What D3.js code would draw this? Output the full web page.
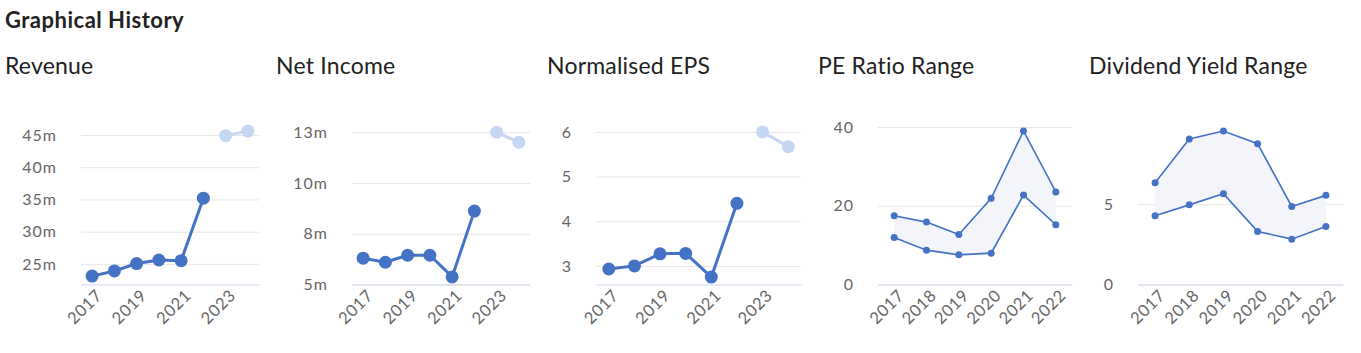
<!DOCTYPE html>
<html>
<head>
<meta charset="utf-8">
<script src="https://cdn.jsdelivr.net/npm/d3@7"></script>
<style>
  body { margin: 0; background: #fff; font-family: Lato, sans-serif; }
</style>
</head>
<body>
<div id="chart"></div>
<script>
// Données
const lineYears = [2017, 2018, 2019, 2020, 2021, 2022, 2023, 2024];
const lineYearLabels = [2017, 2019, 2021, 2023];
const rangeYears = [2017, 2018, 2019, 2020, 2021, 2022];

const revenueActual = [23.1, 23.9, 25.05, 25.6, 25.5, 35.2];
const revenueForecast = [44.9, 45.6];
const revenueTicks = [25, 30, 35, 40, 45];

const netIncomeActual = [6.55, 6.34, 6.7, 6.7, 5.59, 8.96];
const netIncomeForecast = [13.0, 12.49];
const netIncomeTicks = [5.2, 7.8, 10.4, 13.0];

const epsActual = [2.93, 3.0, 3.27, 3.28, 2.75, 4.40];
const epsForecast = [6.0, 5.67];
const epsTicks = [3, 4, 5, 6];

const peHigh = [17.45, 15.85, 12.7, 21.9, 39.0, 23.5];
const peLow = [11.96, 8.73, 7.53, 7.96, 22.7, 15.17];
const peTicks = [0, 20, 40];

const divHigh = [6.32, 9.04, 9.54, 8.75, 4.85, 5.54];
const divLow = [4.27, 4.95, 5.64, 3.30, 2.82, 3.61];
const divTicks = [0, 5];

// Canevas
const width = 1361;
const height = 353;
const plotTop = 127;
const plotBottom = 284.5;
const blue = "#4472c4";
const lightBlue = "#c5d6f3";

const svg = d3.select("#chart")
    .append("svg")
    .attr("width", width)
    .attr("height", height);

svg.append("text")
    .attr("x", 5)
    .attr("y", 28)
    .attr("font-size", "22px")
    .attr("font-weight", "bold")
    .attr("letter-spacing", "0.5px")
    .attr("fill", "#222")
    .text("Graphical History");

const panels = [
    { title: "Revenue", x0: 5, left: 76, type: "line", actual: revenueActual, forecast: revenueForecast, ticks: revenueTicks, domain: [21.8, 46.24], fmt: d => d3.format(".0f")(d) + "m" },
    { title: "Net Income", x0: 276, left: 76, type: "line", actual: netIncomeActual, forecast: netIncomeForecast, ticks: netIncomeTicks, domain: [5.2, 13.27], fmt: d => d3.format(".0f")(d) + "m" },
    { title: "Normalised EPS", x0: 547, left: 49, type: "line", actual: epsActual, forecast: epsForecast, ticks: epsTicks, domain: [2.583, 6.11], fmt: d3.format(".0f") },
    { title: "PE Ratio Range", x0: 818, left: 60, type: "range", high: peHigh, low: peLow, ticks: peTicks, domain: [0, 40], fmt: d3.format(".0f") },
    { title: "Dividend Yield Range", x0: 1089, left: 49, type: "range", high: divHigh, low: divLow, ticks: divTicks, domain: [0, 9.79], fmt: d3.format(".0f") }
];

panels.forEach(p => {
    const g = svg.append("g");
    const x1 = p.x0 + p.left;
    const x2 = p.x0 + 254;

    g.append("text")
        .attr("x", p.x0)
        .attr("y", 73.5)
        .attr("font-size", "23px")
        .attr("letter-spacing", "0.2px")
        .attr("fill", "#222")
        .text(p.title);

    const years = p.type === "line" ? lineYears : rangeYears;
    const labels = p.type === "line" ? lineYearLabels : rangeYears;

    const scaleX = d3.scaleBand()
        .domain(years)
        .range([x1, x2]);

    const scaleY = d3.scaleLinear()
        .domain(p.domain)
        .range([plotBottom, plotTop]);

    // Grille et axe Y
    const yAxis = d3.axisLeft(scaleY)
        .tickValues(p.ticks)
        .tickFormat(p.fmt)
        .tickSize(-(x2 - x1))
        .tickPadding(24);

    g.append("g")
        .attr("transform", `translate(${x1}, 0)`)
        .call(yAxis)
        .call(g => g.select(".domain").remove())
        .call(g => g.selectAll(".tick line").attr("stroke", "#e6e6e6"))
        .call(g => g.selectAll(".tick text")
            .attr("font-family", "Lato, sans-serif")
            .attr("font-size", "16px")
            .attr("letter-spacing", "1px")
            .attr("fill", "#666"));

    // Axe X
    const xAxis = d3.axisBottom(scaleX)
        .tickValues(labels)
        .tickSize(0)
        .tickPadding(0);

    g.append("g")
        .attr("transform", `translate(0, ${plotBottom})`)
        .call(xAxis)
        .call(g => g.select(".domain").attr("stroke", "#ccd6eb"))
        .call(g => g.selectAll(".tick text")
            .attr("font-family", "Lato, sans-serif")
            .attr("font-size", "16.5px")
            .attr("letter-spacing", "0.6px")
            .attr("fill", "#666")
            .attr("text-anchor", "end")
            .attr("dy", null)
            .attr("transform", "translate(11, 12) rotate(-45)"));

    const cx = (d, i) => scaleX(years[i]) + scaleX.bandwidth() / 2;

    if (p.type === "line") {
        const actualData = p.actual.map((v, i) => ({ year: lineYears[i], v: v }));
        const forecastData = p.forecast.map((v, i) => ({ year: lineYears[p.actual.length + i], v: v }));

        const line = d3.line()
            .x(d => scaleX(d.year) + scaleX.bandwidth() / 2)
            .y(d => scaleY(d.v));

        [[forecastData, lightBlue], [actualData, blue]].forEach(([data, col]) => {
            g.append("path")
                .datum(data)
                .attr("fill", "none")
                .attr("stroke", col)
                .attr("stroke-width", 3)
                .attr("d", line);

            g.selectAll(null)
                .data(data)
                .join("circle")
                .attr("cx", d => scaleX(d.year) + scaleX.bandwidth() / 2)
                .attr("cy", d => scaleY(d.v))
                .attr("r", 6.5)
                .attr("fill", col);
        });
    } else {
        const area = d3.area()
            .x(cx)
            .y0((d, i) => scaleY(p.low[i]))
            .y1((d, i) => scaleY(p.high[i]));

        g.append("path")
            .datum(p.high)
            .attr("fill", "#f3f5fb")
            .attr("d", area);

        [p.high, p.low].forEach(series => {
            g.append("path")
                .datum(series)
                .attr("fill", "none")
                .attr("stroke", blue)
                .attr("stroke-width", 1.6)
                .attr("d", d3.line().x(cx).y(d => scaleY(d)));

            g.selectAll(null)
                .data(series)
                .join("circle")
                .attr("cx", cx)
                .attr("cy", d => scaleY(d))
                .attr("r", 3.5)
                .attr("fill", blue);
        });
    }
});
</script>
</body>
</html>
